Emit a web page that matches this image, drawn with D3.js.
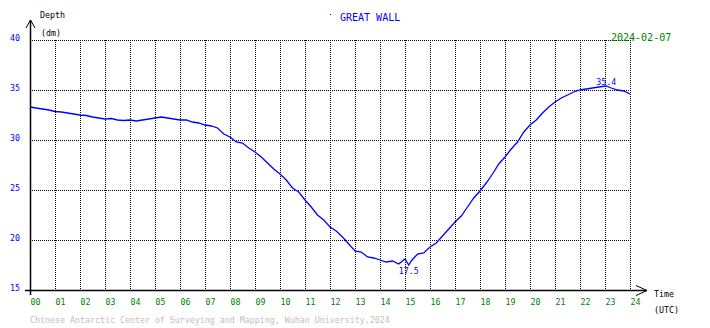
<!DOCTYPE html>
<html>
<head>
<meta charset="utf-8">
<script src="https://cdn.jsdelivr.net/npm/d3@7"></script>
<style>
  body { margin: 0; background: #fff; }
  svg text { font-family: "DejaVu Sans Mono", monospace; }
</style>
</head>
<body>
<div id="chart"></div>
<script>
// hourly tick labels
var hourLabels = ["00","01","02","03","04","05","06","07","08","09","10","11","12",
                  "13","14","15","16","17","18","19","20","21","22","23","24"];
var depthTicks = [15, 20, 25, 30, 35, 40];

// tide readings (hour, depth in dm)
var hours = [0,0.25,0.5,0.75,1,1.25,1.5,1.75,2,2.25,2.5,2.75,3,3.25,3.5,3.75,4,4.25,4.5,4.75,
             5,5.25,5.5,5.75,6,6.25,6.5,6.75,7,7.25,7.5,7.75,8,8.25,8.5,8.75,9,9.25,9.5,9.75,
             10,10.25,10.5,10.75,11,11.25,11.5,11.75,12,12.25,12.5,12.75,13,13.25,13.5,13.75,
             14,14.25,14.5,14.75,15,15.15,15.25,15.5,15.75,16,16.25,16.5,16.75,17,17.25,17.5,17.75,
             18,18.25,18.5,18.75,19,19.25,19.5,19.75,20,20.25,20.5,20.75,21,21.25,21.5,21.75,
             22,22.25,22.5,22.75,23.05,23.25,23.5,23.75,24];
var depths = [33.3,33.2,33.1,33.0,32.85,32.8,32.7,32.6,32.5,32.45,32.3,32.2,32.1,32.15,32.0,31.95,32.0,31.9,32.0,32.1,
              32.2,32.3,32.2,32.1,32.0,32.0,31.8,31.7,31.5,31.4,31.2,30.6,30.3,29.8,29.7,29.2,28.8,28.3,27.7,27.1,
              26.6,26.0,25.2,24.8,24.0,23.3,22.5,22.0,21.3,20.9,20.3,19.6,18.9,18.8,18.3,18.2,
              18.0,17.8,17.9,17.6,18.1,17.5,17.9,18.6,18.7,19.3,19.7,20.4,21.1,21.8,22.4,23.3,24.2,
              24.9,25.7,26.6,27.6,28.3,29.1,29.8,30.8,31.5,32.0,32.7,33.3,33.8,34.2,34.5,34.8,
              35.0,35.1,35.2,35.3,35.4,35.2,35.0,34.9,34.6];

var data = hours.map(function (h, i) { return { h: h, v: depths[i] }; });

var W = 710, H = 328;
var svg = d3.select("#chart").append("svg")
    .attr("width", W).attr("height", H);

var x = d3.scaleLinear().domain([0, 24]).range([30, 630]);
var y = d3.scaleLinear().domain([15, 40]).range([290, 40]);

// dotted grid
svg.append("g").selectAll("line.v")
    .data(d3.range(1, 25))
    .enter().append("line")
    .attr("x1", function (d) { return x(d) + 0.5; })
    .attr("x2", function (d) { return x(d) + 0.5; })
    .attr("y1", y(40)).attr("y2", y(15))
    .attr("stroke", "#000").attr("stroke-dasharray", "1,1");
svg.append("g").selectAll("line.h")
    .data(depthTicks.slice(1))
    .enter().append("line")
    .attr("x1", x(0)).attr("x2", x(24))
    .attr("y1", function (d) { return y(d) + 0.5; })
    .attr("y2", function (d) { return y(d) + 0.5; })
    .attr("stroke", "#000").attr("stroke-dasharray", "1,1");

// axes with arrows
svg.append("line").attr("x1", 30.5).attr("x2", 30.5).attr("y1", 20).attr("y2", 295)
    .attr("stroke", "#000").attr("stroke-width", 1.5);
svg.append("path").attr("d", "M26,28L30.5,20L35,28").attr("fill", "none").attr("stroke", "#000");
svg.append("line").attr("x1", 25).attr("x2", 647).attr("y1", 290.5).attr("y2", 290.5)
    .attr("stroke", "#000").attr("stroke-width", 1.5);
svg.append("path").attr("d", "M636,285.5L647,290.5L636,295.5").attr("fill", "none").attr("stroke", "#000");

// tick labels
svg.append("g").selectAll("text")
    .data(depthTicks)
    .enter().append("text")
    .attr("x", 10).attr("y", function (d) { return y(d) + 1; })
    .attr("font-size", "8.3px").attr("fill", "#0000ff")
    .text(function (d) { return d; });
svg.append("g").selectAll("text")
    .data(hourLabels)
    .enter().append("text")
    .attr("x", function (d, i) { return x(i) + 0.5; }).attr("y", 305)
    .attr("font-size", "8.3px").attr("fill", "#008000")
    .text(function (d) { return d; });

// axis titles
svg.append("text").attr("x", 40).attr("y", 18).attr("font-size", "8.3px").text("Depth");
svg.append("text").attr("x", 41).attr("y", 36).attr("font-size", "8.3px").text("(dm)");
svg.append("text").attr("x", 654).attr("y", 297).attr("font-size", "8.3px").text("Time");
svg.append("text").attr("x", 654).attr("y", 313).attr("font-size", "8.3px").text("(UTC)");

// title and date
svg.append("rect").attr("x", 330).attr("y", 14).attr("width", 1).attr("height", 1).attr("fill", "#0000ff");
svg.append("text").attr("x", 340).attr("y", 21).attr("font-size", "10px").attr("fill", "#0000ff").text("GREAT WALL");
svg.append("text").attr("x", 611).attr("y", 41).attr("font-size", "10px").attr("fill", "#008000").text("2024-02-07");

// tide line
svg.append("path")
    .datum(data)
    .attr("fill", "none")
    .attr("stroke", "#0000ff")
    .attr("stroke-width", 1.3)
    .attr("d", d3.line()
        .x(function (d) { return x(d.h); })
        .y(function (d) { return y(d.v); }));

// min / max annotations
var minPt = data.reduce(function (a, b) { return b.v < a.v ? b : a; });
var maxPt = data.reduce(function (a, b) { return b.v > a.v ? b : a; });
svg.append("text").attr("x", x(minPt.h)).attr("y", y(minPt.v) + 9)
    .attr("text-anchor", "middle").attr("font-size", "8.3px").attr("fill", "#0000ff")
    .text(minPt.v.toFixed(1));
svg.append("text").attr("x", x(maxPt.h)).attr("y", y(maxPt.v) - 1)
    .attr("text-anchor", "middle").attr("font-size", "8.3px").attr("fill", "#0000ff")
    .text(maxPt.v.toFixed(1));

// footer
svg.append("text").attr("x", 30).attr("y", 323).attr("font-size", "8.3px").attr("fill", "#c0c0c0")
    .text("Chinese Antarctic Center of Surveying and Mapping, Wuhan University,2024");
</script>
</body>
</html>
